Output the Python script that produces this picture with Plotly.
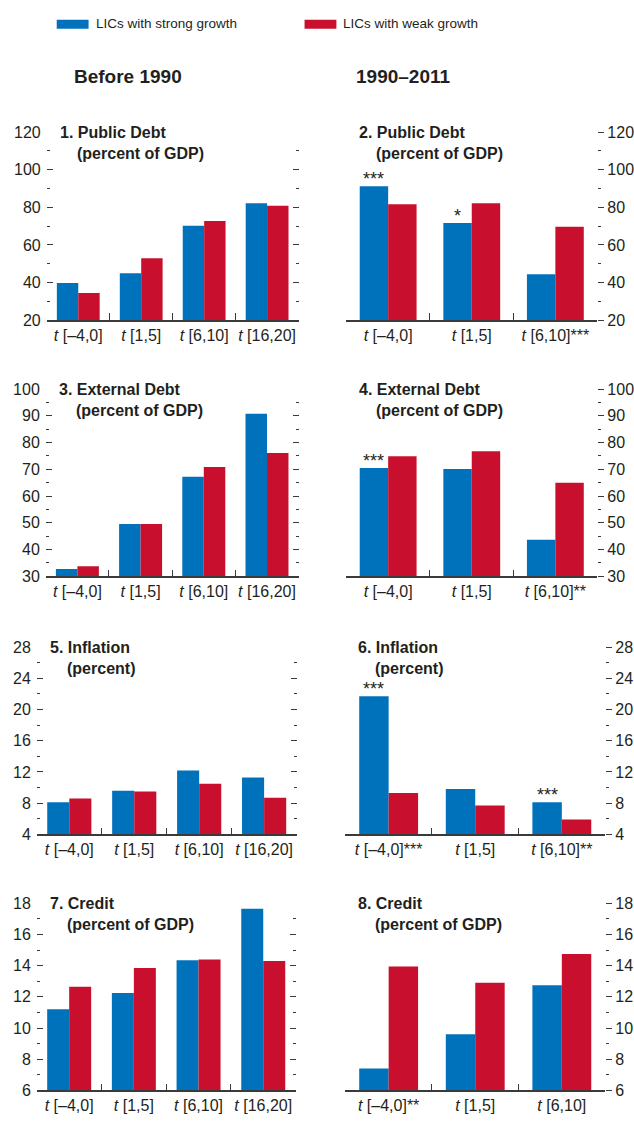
import plotly.graph_objects as go

# ---------------- data ----------------
cats_before = ["[–4,0]", "[1,5]", "[6,10]", "[16,20]"]
cats_after = ["[–4,0]", "[1,5]", "[6,10]"]

series_names = ["LICs with strong growth", "LICs with weak growth"]

# Panel 1: Public debt, before 1990
p1_strong = [39.8, 45.0, 70.2, 82.2]
p1_weak = [34.5, 52.9, 72.8, 80.8]
# Panel 2: Public debt, 1990-2011
p2_strong = [91.2, 71.7, 44.5]
p2_weak = [81.7, 82.2, 69.7]
# Panel 3: External debt, before 1990
p3_strong = [32.7, 49.6, 67.2, 90.8]
p3_weak = [33.8, 49.6, 70.9, 76.1]
# Panel 4: External debt, 1990-2011
p4_strong = [70.5, 70.1, 43.7]
p4_weak = [74.9, 76.8, 65.0]
# Panel 5: Inflation, before 1990
p5_strong = [8.1, 9.6, 12.2, 11.3]
p5_weak = [8.6, 9.5, 10.5, 8.7]
# Panel 6: Inflation, 1990-2011
p6_strong = [21.7, 9.8, 8.1]
p6_weak = [9.3, 7.7, 5.9]
# Panel 7: Credit, before 1990
p7_strong = [11.2, 12.25, 14.35, 17.65]
p7_weak = [12.65, 13.85, 14.4, 14.3]
# Panel 8: Credit, 1990-2011
p8_strong = [7.4, 9.6, 12.75]
p8_weak = [13.95, 12.9, 14.75]

# significance markers (above strong-growth bar / after category label)
p2_bar_sig = ["***", "*", ""]
p2_label_sig = ["", "", "***"]
p4_bar_sig = ["***", "", ""]
p4_label_sig = ["", "", "**"]
p6_bar_sig = ["***", "", "***"]
p6_label_sig = ["***", "", "**"]
p8_bar_sig = ["", "", ""]
p8_label_sig = ["**", "", ""]
no_sig_4 = ["", "", "", ""]

titles = ["1. Public Debt", "2. Public Debt", "3. External Debt", "4. External Debt",
          "5. Inflation", "6. Inflation", "7. Credit", "8. Credit"]
subtitles = ["(percent of GDP)", "(percent of GDP)", "(percent of GDP)", "(percent of GDP)",
             "(percent)", "(percent)", "(percent of GDP)", "(percent of GDP)"]
column_headers = ["Before 1990", "1990–2011"]

# ---------------- styling ----------------
W, H = 634, 1126
BLUE = "#0072BC"
RED = "#C8102E"
INK = "#231F20"
AX = "#3a3a3a"
FONT = "Liberation Sans, Arial, sans-serif"
TICKFONT = dict(family=FONT, size=16, color=INK)

panels = [
    dict(cats=cats_before, s=p1_strong, w=p1_weak, bsig=no_sig_4, lsig=no_sig_4,
         yr=(20, 120), major=20, minor=10, px=(47, 300), py=(126, 317), side="left"),
    dict(cats=cats_after, s=p2_strong, w=p2_weak, bsig=p2_bar_sig, lsig=p2_label_sig,
         yr=(20, 120), major=20, minor=10, px=(348, 600), py=(126, 317), side="right"),
    dict(cats=cats_before, s=p3_strong, w=p3_weak, bsig=no_sig_4, lsig=no_sig_4,
         yr=(30, 100), major=10, minor=5, px=(46, 300), py=(387, 577), side="left"),
    dict(cats=cats_after, s=p4_strong, w=p4_weak, bsig=p4_bar_sig, lsig=p4_label_sig,
         yr=(30, 100), major=10, minor=5, px=(348, 600), py=(387, 577), side="right"),
    dict(cats=cats_before, s=p5_strong, w=p5_weak, bsig=no_sig_4, lsig=no_sig_4,
         yr=(4, 28), major=4, minor=2, px=(37, 298), py=(649, 839), side="left"),
    dict(cats=cats_after, s=p6_strong, w=p6_weak, bsig=p6_bar_sig, lsig=p6_label_sig,
         yr=(4, 28), major=4, minor=2, px=(347, 608), py=(649, 839), side="right"),
    dict(cats=cats_before, s=p7_strong, w=p7_weak, bsig=no_sig_4, lsig=no_sig_4,
         yr=(6, 18), major=2, minor=1, px=(37, 297), py=(909, 1099), side="left"),
    dict(cats=cats_after, s=p8_strong, w=p8_weak, bsig=p8_bar_sig, lsig=p8_label_sig,
         yr=(6, 18), major=2, minor=1, px=(347, 608), py=(909, 1099), side="right"),
]

BARGAP = 0.32
fig = go.Figure()
layout = {}
annotations = []

for i, p in enumerate(panels, start=1):
    xa = "x" if i == 1 else f"x{i}"
    ya = "y" if i == 1 else f"y{i}"
    n = len(p["cats"])
    xs = list(range(n))
    fig.add_trace(go.Bar(x=xs, y=p["s"], name=series_names[0], marker_color=BLUE,
                         marker_line_width=0, xaxis=xa, yaxis=ya, showlegend=False))
    fig.add_trace(go.Bar(x=xs, y=p["w"], name=series_names[1], marker_color=RED,
                         marker_line_width=0, xaxis=xa, yaxis=ya, showlegend=False))
    xdom = [p["px"][0] / W, p["px"][1] / W]
    ydom = [1 - p["py"][1] / H, 1 - p["py"][0] / H]
    ticktext = [f"<i>t</i> {c}{s}" for c, s in zip(p["cats"], p["lsig"])]
    layout["xaxis" if i == 1 else f"xaxis{i}"] = dict(
        domain=xdom, range=[-0.5, n - 0.5], anchor=ya,
        tickmode="array", tickvals=xs, ticktext=ticktext, ticks="", tickangle=0,
        showline=True, linecolor=AX, linewidth=1.5,
        showgrid=False, zeroline=False, tickfont=TICKFONT,
        minor=dict(tickmode="array", tickvals=[k + 0.5 for k in range(n - 1)],
                   ticks="inside", ticklen=7, tickwidth=1.2, tickcolor=AX, showgrid=False),
        fixedrange=True,
    )
    lo, hi = p["yr"]
    common = dict(domain=ydom, range=[lo, hi], anchor=xa,
                  tickmode="linear", tick0=lo, dtick=p["major"],
                  tickwidth=1.2, tickcolor=AX, showline=False, showgrid=False,
                  zeroline=False, tickfont=TICKFONT, fixedrange=True)
    if p["side"] == "left":
        layout["yaxis" if i == 1 else f"yaxis{i}"] = dict(
            common, side="left", ticks="inside", ticklen=6, mirror="ticks",
            ticklabelstandoff=5,
            minor=dict(tick0=lo, dtick=p["minor"], ticks="inside", ticklen=3,
                       tickwidth=1.2, tickcolor=AX, showgrid=False))
    else:
        layout[f"yaxis{i}"] = dict(
            common, side="right", ticks="outside", ticklen=6,
            minor=dict(tick0=lo, dtick=p["minor"], ticks="outside", ticklen=3,
                       tickwidth=1.2, tickcolor=AX, showgrid=False))
        # unlabeled tick marks along the left edge of right-hand panels
        layout[f"yaxis{i + 8}"] = dict(
            common, side="left", overlaying=ya, ticks="inside", ticklen=6,
            showticklabels=False,
            minor=dict(tick0=lo, dtick=p["minor"], ticks="inside", ticklen=3,
                       tickwidth=1.2, tickcolor=AX, showgrid=False))
    # panel titles
    annotations.append(dict(text=f"<b>{titles[i-1]}</b>", xref=f"{xa} domain", yref=f"{ya} domain",
                            x=0, y=1, xanchor="left", yanchor="middle", xshift=11, showarrow=False,
                            font=dict(family=FONT, size=16, color=INK)))
    annotations.append(dict(text=f"<b>{subtitles[i-1]}</b>", xref=f"{xa} domain", yref=f"{ya} domain",
                            x=0, y=1, xanchor="left", yanchor="middle", xshift=28, yshift=-21,
                            showarrow=False, font=dict(family=FONT, size=16, color=INK)))
    # significance stars above strong-growth bars
    off = (1 - BARGAP) / 4
    for k, (sig, val) in enumerate(zip(p["bsig"], p["s"])):
        if sig:
            annotations.append(dict(text=sig, xref=xa, yref=ya, x=k - off, y=val,
                                    xanchor="center", yanchor="bottom", yshift=-5, showarrow=False,
                                    font=dict(family=FONT, size=18, color=INK)))

# column headers
for txt, cx in zip(column_headers, [129, 405]):
    annotations.append(dict(text=f"<b>{txt}</b>", xref="paper", yref="paper", x=cx / W, y=1 - 70 / H,
                            xanchor="center", yanchor="middle", showarrow=False,
                            font=dict(family=FONT, size=19, color=INK)))

# legend (swatch + label)
shapes = []
for name, col, x0, tx in zip(series_names, [BLUE, RED], [57, 306], [94, 343]):
    shapes.append(dict(type="rect", xref="paper", yref="paper", x0=x0 / W, x1=(x0 + 32) / W,
                       y0=1 - 21 / H, y1=1 - 12 / H, fillcolor=col, line_width=0))
    annotations.append(dict(text=name, xref="paper", yref="paper", x=tx / W, y=1 - 16 / H,
                            xanchor="left", yanchor="middle", showarrow=False,
                            font=dict(family=FONT, size=13.5, color=INK)))

fig.update_layout(
    width=W, height=H, margin=dict(l=0, r=0, t=0, b=0),
    paper_bgcolor="white", plot_bgcolor="white",
    barmode="group", bargap=BARGAP, bargroupgap=0,
    showlegend=False, annotations=annotations, shapes=shapes,
    font=dict(family=FONT, color=INK),
    **layout,
)

fig.write_html("out.html", config={"displayModeBar": False},
               post_script="document.body.style.margin='0';document.body.style.overflow='hidden';")
